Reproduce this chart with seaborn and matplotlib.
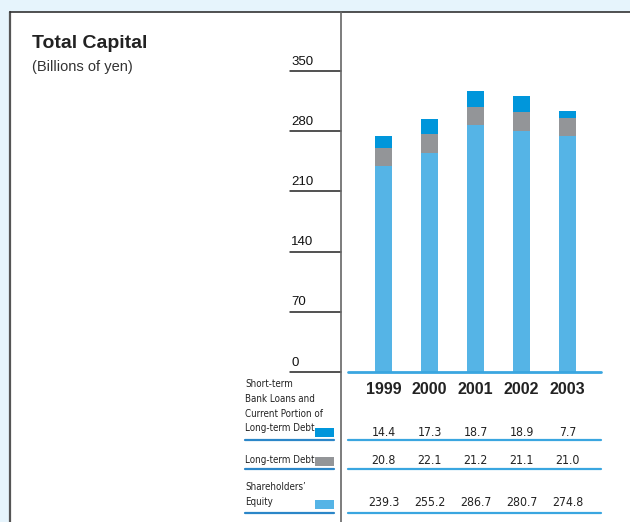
import pandas as pd
import matplotlib.pyplot as plt
from matplotlib.lines import Line2D
from matplotlib.patches import Rectangle
import seaborn as sns

# datos del gráfico
years = ['1999', '2000', '2001', '2002', '2003']
short_term = [14.4, 17.3, 18.7, 18.9, 7.7]
long_term = [20.8, 22.1, 21.2, 21.1, 21.0]
equity = [239.3, 255.2, 286.7, 280.7, 274.8]
y_ticks = [0, 70, 140, 210, 280, 350]

row_labels = ['Short-term\nBank Loans and\nCurrent Portion of\nLong-term Debt',
              'Long-term Debt',
              'Shareholders’\nEquity']

c_equity = '#55b4e6'
c_long = '#939598'
c_short = '#0096db'
c_line = '#3aa6e0'

df = pd.DataFrame({'year': years, 'equity': equity,
                   'long': long_term, 'short': short_term})
df['eq_long'] = df['equity'] + df['long']
df['total'] = df['eq_long'] + df['short']

sns.set_style('white')
plt.rcParams['font.family'] = ['Liberation Sans', 'DejaVu Sans']

W, H = 630, 522
fig = plt.figure(figsize=(W / 100, H / 100), dpi=100)
fig.patch.set_facecolor('#e6f4fc')


def fx(px):
    return px / W


def fy(py):
    return 1 - py / H


# panel blanco
fig.add_artist(Rectangle((fx(10), 0), 1, fy(12), transform=fig.transFigure,
                         facecolor='white', edgecolor='none', zorder=0))
fig.add_artist(Line2D([fx(10), fx(10)], [0, fy(12)], transform=fig.transFigure,
                      color='#555555', lw=1.6))
fig.add_artist(Line2D([fx(10), 1], [fy(12), fy(12)], transform=fig.transFigure,
                      color='#333333', lw=1.2))
# línea vertical separadora
fig.add_artist(Line2D([fx(341), fx(341)], [0, fy(12)], transform=fig.transFigure,
                      color='#666666', lw=1.2))

# ejes de las barras
ax_left, ax_right, ax_top, ax_bottom = 290, 630, 12, 372
ax = fig.add_axes([fx(ax_left), fy(ax_bottom), fx(ax_right - ax_left),
                   (ax_bottom - ax_top) / H])
ax.set_facecolor('none')
scale = (372 - 71) / 350
ax.set_ylim(0, (ax_bottom - ax_top) / scale)
spacing = 46
x0 = -(383.5 - ax_left) / spacing

bw = 17 / spacing
sns.barplot(data=df, x='year', y='total', color=c_short, width=bw,
            saturation=1, linewidth=0, edgecolor='none', ax=ax, zorder=2)
sns.barplot(data=df, x='year', y='eq_long', color=c_long, width=bw,
            saturation=1, linewidth=0, edgecolor='none', ax=ax, zorder=3)
sns.barplot(data=df, x='year', y='equity', color=c_equity, width=bw,
            saturation=1, linewidth=0, edgecolor='none', ax=ax, zorder=4)
ax.set_xlim(x0, x0 + (ax_right - ax_left) / spacing)

for s in ax.spines.values():
    s.set_visible(False)
ax.set_xticks([])
ax.set_yticks([])
ax.set_xlabel('')
ax.set_ylabel('')

# marcas del eje y
for t in y_ticks:
    ax.axhline(t, xmin=0, xmax=51 / 340, color='#222222', lw=1.1, zorder=1,
               clip_on=False)
    ax.text(0.003, t + 4, str(t), transform=ax.get_yaxis_transform(),
            ha='left', va='bottom', fontsize=9.5, color='#111111')
ax.axhline(0, xmin=58 / 340, xmax=311 / 340, color=c_line, lw=2, zorder=5,
           clip_on=False)

# títulos
fig.text(fx(32), fy(44), 'Total Capital', fontsize=14, fontweight='bold',
         color='#222222', ha='left', va='center')
fig.text(fx(32), fy(67), '(Billions of yen)', fontsize=10.5, color='#333333',
         ha='left', va='center')

# tabla de valores
centers = [383.5 + i * spacing for i in range(len(years))]
for cx, yr in zip(centers, years):
    fig.text(fx(cx), fy(389), yr, fontsize=11.5, fontweight='bold',
             color='#222222', ha='center', va='center')

rows = [short_term, long_term, equity]
row_y = [432, 460, 503]
line_y = [440, 469, 513]
swatch_y = [432.5, 461, 504.5]
colors = [c_short, c_long, c_equity]
label_top = [379, 455, 482]

for vals, ry, ly, sy, col, lbl, lt in zip(rows, row_y, line_y, swatch_y,
                                          colors, row_labels, label_top):
    for cx, v in zip(centers, vals):
        fig.text(fx(cx), fy(ry), f'{v:.1f}', fontsize=8.8, color='#222222',
                 family='DejaVu Sans', fontstretch='condensed',
                 ha='center', va='center')
    fig.add_artist(Line2D([fx(348), fx(601)], [fy(ly), fy(ly)],
                          transform=fig.transFigure, color=c_line, lw=1.6))
    fig.add_artist(Line2D([fx(245), fx(334)], [fy(ly), fy(ly)],
                          transform=fig.transFigure, color='#2b86c8', lw=1.6))
    fig.add_artist(Rectangle((fx(315), fy(sy + 4.5)), fx(19), 9 / H,
                             transform=fig.transFigure, facecolor=col,
                             edgecolor='none'))
    fig.text(fx(245), fy(lt), lbl, fontsize=7, family='DejaVu Sans',
             fontstretch='condensed', color='#222222', ha='left', va='top',
             linespacing=1.6)

plt.savefig('out.png', dpi=100)
